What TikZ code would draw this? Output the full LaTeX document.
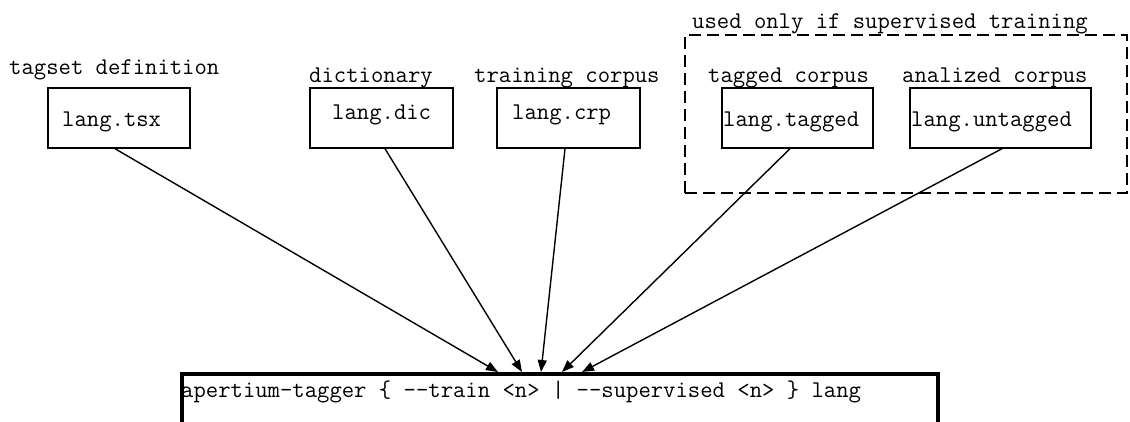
\documentclass[tikz,border=0pt]{standalone}
\usetikzlibrary{arrows.meta,calc}

% two separate hyphens, kept apart so they never merge into a dash
\newcommand{\dhy}{-\kern0pt-}

\tikzset{
  filebox/.style={draw, line width=1.4pt, minimum width=#1, minimum height=60pt, inner sep=0pt},
  filebox/.default=143pt,
  tt/.style={font=\ttfamily\fontsize{24pt}{28pt}\selectfont, inner sep=0pt, anchor=base west},
  groupbox/.style={draw, line width=1.4pt, dash pattern=on 12pt off 6pt},
  cmdbox/.style={draw, line width=4pt, inner sep=0pt},
  feed/.style={-{Triangle[length=12pt,width=9pt]}, line width=1.4pt},
}

\begin{document}
\begin{tikzpicture}[x=1pt,y=-1pt]
  \useasboundingbox (0,0) rectangle (1130,421);
  \clip (0,0) rectangle (1130,421);

  % group of inputs only needed for supervised training
  \node[groupbox, minimum width=442pt, minimum height=158pt] (grp) at (906,114) {};
  \node[tt] (grp-l) at (692,28) {used only if supervised training};

  % input files
  \node[filebox=142pt] (tsx) at (119,118) {};
  \node[tt] (tsx-t) at (62,126) {lang.tsx};
  \node[tt] (tsx-l) at (9,74) {tagset definition};

  \node[filebox=143pt] (dic) at (381.5,118) {};
  \node[tt] (dic-t) at (332,119) {lang.dic};
  \node[tt] (dic-l) at (309,82) {dictionary};

  \node[filebox=143pt] (crp) at (568.5,118) {};
  \node[tt] (crp-t) at (512,119) {lang.crp};
  \node[tt] (crp-l) at (474,82) {training corpus};

  \node[filebox=151pt] (tag) at (797.5,118) {};
  \node[tt] (tag-t) at (723,126) {lang.tagged};
  \node[tt] (tag-l) at (708,82) {tagged corpus};

  \node[filebox=181pt] (unt) at (1000.5,118) {};
  \node[tt] (unt-t) at (911,126) {lang.untagged};
  \node[tt] (unt-l) at (902,82) {analized corpus};

  % the command that consumes them
  \node[cmdbox, minimum width=756pt, minimum height=76pt] (cmd) at (560,412) {};
  \node[tt] (cmd-t) at (181,397) {apertium-tagger \{ \dhy train <n> | \dhy supervised <n> \} lang};

  % connectors
  \draw[feed] ([xshift=-4pt]tsx.south) -- ([xshift=318pt]cmd.north west);
  \draw[feed] ([xshift=3.5pt]dic.south) -- ([xshift=342pt]cmd.north west);
  \draw[feed] ([xshift=-3.5pt]crp.south) -- ([xshift=361pt]cmd.north west);
  \draw[feed] ([xshift=-7.5pt]tag.south) -- ([xshift=382pt]cmd.north west);
  \draw[feed] ([xshift=1.5pt]unt.south) -- ([xshift=402pt]cmd.north west);
\end{tikzpicture}
\end{document}
